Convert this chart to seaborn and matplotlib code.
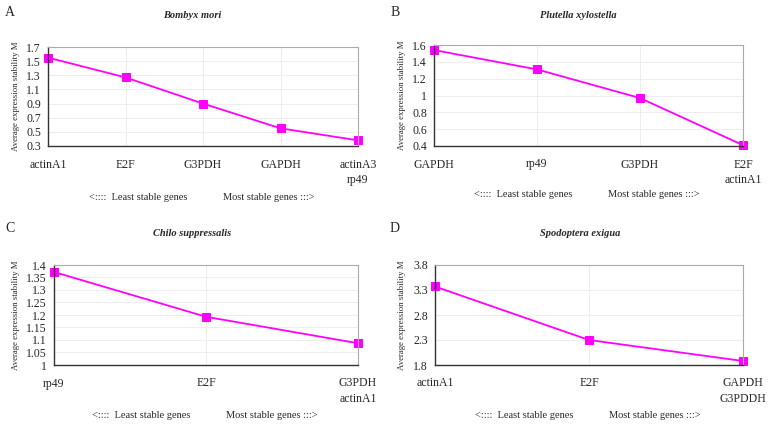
import matplotlib
matplotlib.use("Agg")
import matplotlib.pyplot as plt
import seaborn as sns
import pandas as pd

sns.set_style("white")
plt.rcParams['font.family'] = ['Liberation Serif', 'DejaVu Serif']

# ---- data ----
genes_a = ["actinA1", "E2F", "G3PDH", "GAPDH", "actinA3\nrp49"]
m_a = [1.55, 1.27, 0.90, 0.55, 0.38]
genes_b = ["GAPDH", "rp49", "G3PDH", "E2F\nactinA1"]
m_b = [1.54, 1.31, 0.97, 0.41]
genes_c = ["rp49", "E2F", "G3PDH\nactinA1"]
m_c = [1.372, 1.193, 1.087]
genes_d = ["actinA1", "E2F", "GAPDH\nG3PDDH"]
m_d = [3.37, 2.30, 1.88]

titles = ["Bombyx mori", "Plutella xylostella", "Chilo suppressalis", "Spodoptera exigua"]
letters = ["A", "B", "C", "D"]
yticks_list = [
    [0.3, 0.5, 0.7, 0.9, 1.1, 1.3, 1.5, 1.7],
    [0.4, 0.6, 0.8, 1, 1.2, 1.4, 1.6],
    [1, 1.05, 1.1, 1.15, 1.2, 1.25, 1.3, 1.35, 1.4],
    [1.8, 2.3, 2.8, 3.3, 3.8],
]
ytick_labels = [
    ["0.3", "0.5", "0.7", "0.9", "1.1", "1.3", "1.5", "1.7"],
    ["0.4", "0.6", "0.8", "1", "1.2", "1.4", "1.6"],
    ["1", "1.05", "1.1", "1.15", "1.2", "1.25", "1.3", "1.35", "1.4"],
    ["1.8", "2.3", "2.8", "3.3", "3.8"],
]

W, H = 770, 425
fig = plt.figure(figsize=(W / 100, H / 100), dpi=100)

# layout in pixels: (left, right, top, bottom)
boxes = [(48, 358, 47, 146), (434, 743, 45, 146), (54, 358, 265, 365), (435, 743, 265, 365)]
letter_pos = [(10, 13), (395, 13), (10, 229), (395, 229)]
title_pos = [(192, 16), (578, 16), (192, 234), (580, 234)]
bottom_y = [197, 195, 415, 415]
ylab_x = [16, 402, 16, 402]

panels = [(genes_a, m_a), (genes_b, m_b), (genes_c, m_c), (genes_d, m_d)]

def fx(x):
    return x / W

def fy(y):
    return 1 - y / H

for i, (genes, vals) in enumerate(panels):
    l, r, t, b = boxes[i]
    ax = fig.add_axes([fx(l), fy(b), (r - l) / W, (b - t) / H])
    df = pd.DataFrame({"pos": list(range(len(genes))), "M": vals})
    sns.lineplot(data=df, x="pos", y="M", ax=ax, color="#FF00FF", lw=1.3,
                 marker="s", markersize=5.8, markeredgecolor="#FF00FF", clip_on=False)
    ax.set_xlim(0, len(genes) - 1)
    yt = yticks_list[i]
    ax.set_ylim(yt[0], yt[-1])
    ax.set_yticks(yt)
    ax.set_yticklabels(ytick_labels[i], fontsize=8.5)
    ax.set_xticks(list(range(len(genes))))
    ax.set_xticklabels(genes, fontsize=8.5, linespacing=1.35, va="top")
    ax.tick_params(axis="x", direction="out", length=3, color="#999999", pad=6)
    ax.tick_params(axis="y", length=0, pad=5)
    ax.grid(True, color="#ededed", lw=0.7)
    ax.set_axisbelow(True)
    for s in ["top", "right"]:
        ax.spines[s].set_color("#aaaaaa")
        ax.spines[s].set_linewidth(0.8)
    for s in ["left", "bottom"]:
        ax.spines[s].set_color("#333333")
        ax.spines[s].set_linewidth(1.0)
    ax.set_xlabel("")
    ax.set_ylabel("")
    fig.text(fx(ylab_x[i]), fy((t + b) / 2), "Average expression stability M",
             rotation=90, ha="center", va="center", fontsize=6.3)
    fig.text(fx(letter_pos[i][0]), fy(letter_pos[i][1]), letters[i],
             ha="center", va="center", fontsize=10)
    fig.text(fx(title_pos[i][0]), fy(title_pos[i][1]), titles[i],
             ha="center", va="center", fontsize=7.5, fontweight="bold", style="italic")
    cx = (l + r) / 2
    fig.text(fx(cx - 16), fy(bottom_y[i]), "<::::  Least stable genes",
             ha="right", va="center", fontsize=7.5)
    fig.text(fx(cx + 20), fy(bottom_y[i]), "Most stable genes :::>",
             ha="left", va="center", fontsize=7.5)

fig.savefig("out.png", dpi=100)
